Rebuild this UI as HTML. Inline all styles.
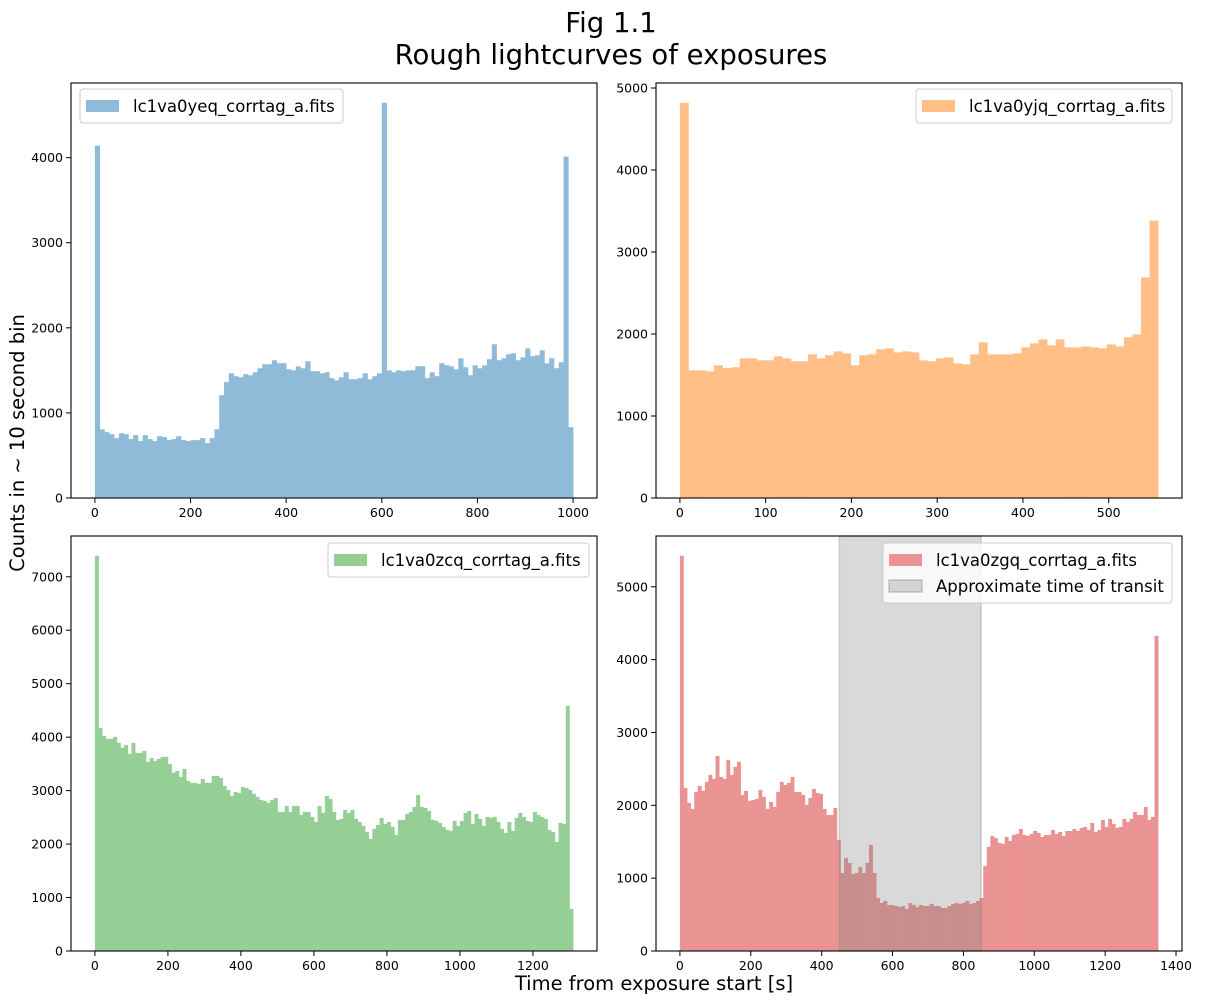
<!DOCTYPE html>
<html>
<head>
<meta charset="utf-8">
<style>
html,body{margin:0;padding:0;background:#fff;}
svg{display:block;font-family:"DejaVu Sans","Liberation Sans",sans-serif;}
</style>
</head>
<body>
<svg id="fig" width="1205" height="1004" viewBox="0 0 1205 1004" xmlns="http://www.w3.org/2000/svg">
<text x="611" y="32" font-size="27.5" text-anchor="middle">Fig 1.1</text>
<text x="611" y="64" font-size="27.5" text-anchor="middle">Rough lightcurves of exposures</text>
<text x="0" y="0" font-size="19.5" text-anchor="middle" transform="translate(24,443) rotate(-90)">Counts in  ~ 10 second bin</text>
<text x="654" y="990" font-size="19.5" text-anchor="middle">Time from exposure start [s]</text>
</svg>
<script>
// ---- data ----
const p1Counts = [4141,805,774,751,704,762,751,692,739,669,739,692,669,727,716,680,692,727,680,669,680,680,704,645,704,809,1208,1361,1466,1431,1419,1455,1443,1478,1525,1572,1572,1619,1584,1584,1513,1501,1548,1525,1607,1490,1490,1466,1478,1408,1384,1419,1478,1396,1396,1408,1466,1396,1431,1466,4645,1501,1478,1501,1490,1501,1501,1548,1548,1408,1478,1431,1584,1560,1548,1513,1642,1537,1443,1560,1525,1560,1631,1807,1619,1642,1689,1701,1619,1654,1759,1666,1677,1736,1584,1642,1525,1595,4012,833];
const p2Counts = [4820,1557,1557,1545,1618,1585,1594,1703,1703,1679,1679,1727,1703,1667,1667,1752,1703,1740,1788,1764,1618,1740,1752,1813,1825,1776,1788,1776,1679,1667,1703,1715,1642,1630,1752,1898,1752,1752,1752,1764,1837,1886,1934,1861,1934,1837,1837,1849,1837,1825,1873,1849,1959,1995,2689,3382];
const p3Counts = [7393,4174,4024,3968,3968,4005,3893,3800,3856,3687,3893,3706,3706,3743,3538,3612,3556,3594,3631,3631,3500,3332,3369,3257,3406,3182,3144,3144,3126,3219,3144,3144,3275,3275,3238,3088,3013,2901,2976,2957,3070,3051,3013,2939,2882,2826,2808,2770,2826,2864,2602,2602,2714,2602,2714,2714,2546,2602,2602,2508,2414,2714,2583,2901,2845,2602,2452,2471,2639,2583,2639,2471,2414,2340,2227,2096,2283,2358,2489,2377,2414,2321,2171,2452,2452,2564,2602,2695,2920,2695,2677,2620,2452,2433,2396,2321,2265,2246,2433,2340,2433,2583,2620,2377,2564,2471,2340,2508,2489,2508,2414,2283,2209,2414,2246,2489,2583,2508,2433,2414,2602,2546,2508,2471,2265,2227,2040,2396,2377,4586,786];
const p4Counts = [5426,2239,2033,1951,2184,2267,2198,2322,2418,2363,2679,2390,2363,2624,2418,2528,2596,2143,2198,2061,2074,2088,2212,2115,1951,2047,1978,2184,2322,2280,2308,2390,2184,2184,2143,2006,2102,2225,2170,2157,1951,1868,1868,1964,1525,
1071,1278,1209,1058,1071,1154,1071,1209,1456,1071,728,659,687,632,632,618,604,618,577,659,632,604,632,618,618,646,618,618,591,591,618,646,659,646,659,687,646,659,687,728,
1168,1429,1580,1552,1484,1470,1566,1511,1593,1607,1676,1593,1580,1607,1648,1621,1566,1593,1593,1662,1607,1635,1580,1648,1648,1676,1648,1690,1703,1662,1758,1635,1662,1800,1703,1813,1745,1690,1703,1813,1772,1813,1909,1868,1868,1978,1800,1841,4327];
const binWidths = [10, 9.957, 10, 10.07];
const transitSpan = [450, 850];
const p1XTicks = [0,200,400,600,800,1000];
const p2XTicks = [0,100,200,300,400,500];
const p3XTicks = [0,200,400,600,800,1000,1200];
const p4XTicks = [0,200,400,600,800,1000,1200,1400];
const p1YTicks = [0,1000,2000,3000,4000];
const p2YTicks = [0,1000,2000,3000,4000,5000];
const p3YTicks = [0,1000,2000,3000,4000,5000,6000,7000];
const p4YTicks = [0,1000,2000,3000,4000,5000];
const legendLabels = ["lc1va0yeq_corrtag_a.fits","lc1va0yjq_corrtag_a.fits","lc1va0zcq_corrtag_a.fits","lc1va0zgq_corrtag_a.fits","Approximate time of transit"];

// ---- drawing ----
const NS = "http://www.w3.org/2000/svg";
const svg = document.getElementById("fig");
function mk(tag, attrs, parent){
  const e = document.createElementNS(NS, tag);
  for (const k in attrs) e.setAttribute(k, attrs[k]);
  (parent||svg).appendChild(e);
  return e;
}
const panels = [
  {name:"panel-yeq", x:71, y:83, counts:p1Counts, bw:binWidths[0], xt:p1XTicks, yt:p1YTicks, color:"#8fbbd9", label:legendLabels[0], leg:{x:80,y:89,w:263}},
  {name:"panel-yjq", x:656, y:83, counts:p2Counts, bw:binWidths[1], xt:p2XTicks, yt:p2YTicks, color:"#ffbf86", label:legendLabels[1], leg:{x:916,y:89,w:256}},
  {name:"panel-zcq", x:71, y:536, counts:p3Counts, bw:binWidths[2], xt:p3XTicks, yt:p3YTicks, color:"#95cf95", label:legendLabels[2], leg:{x:328,y:543,w:261}},
  {name:"panel-zgq", x:656, y:536, counts:p4Counts, bw:binWidths[3], xt:p4XTicks, yt:p4YTicks, color:"#ea9393", label:legendLabels[3], leg:{x:883,y:543,w:289}, transit:true}
];
const W = 526, H = 415;
panels.forEach(function(p){
  const g = mk("g", {});
  
  
  const span = p.counts.length * p.bw;
  const xmin = -0.05*span, xmax = span*1.05;
  let ymaxv = 0; p.counts.forEach(function(v){ if (v>ymaxv) ymaxv=v; });
  const ymax = ymaxv*1.05;
  const sx = function(v){ return p.x + (v - xmin)/(xmax - xmin)*W; };
  const sy = function(v){ return p.y + H - v/ymax*H; };
  const bars = mk("g", {}, g);
  
  
  p.counts.forEach(function(v,i){
    const x0 = sx(i*p.bw), x1 = sx((i+1)*p.bw);
    const r = mk("rect", {x:x0, y:sy(v), width:(x1-x0)+0.35, height:sy(0)-sy(v), fill:p.color}, bars);
    
    
  });
  if (p.transit){
    const a = sx(transitSpan[0]), b = sx(transitSpan[1]);
    const s = mk("rect", {x:a, y:p.y, width:b-a, height:H, fill:"#808080", "fill-opacity":0.3, stroke:"#808080", "stroke-opacity":0.3, "stroke-width":1.5}, g);
    
    
  }
  const f = mk("rect", {x:p.x, y:p.y, width:W, height:H, fill:"none", stroke:"#000", "stroke-width":1.1}, g);
  
  
  p.xt.forEach(function(t){
    const x = sx(t);
    const l = mk("line", {x1:x, x2:x, y1:p.y+H, y2:p.y+H+5, stroke:"#000", "stroke-width":1}, g);
    
    
    const tx = mk("text", {x:x, y:p.y+H+19, "font-size":12.5, "text-anchor":"middle"}, g);
    
    
    tx.textContent = t;
  });
  p.yt.forEach(function(t){
    const y = sy(t);
    const l = mk("line", {x1:p.x-5, x2:p.x, y1:y, y2:y, stroke:"#000", "stroke-width":1}, g);
    
    
    const tx = mk("text", {x:p.x-8, y:y+4.5, "font-size":12.5, "text-anchor":"end"}, g);
    
    
    tx.textContent = t;
  });
  const L = p.leg;
  const lh = p.transit ? 60 : 34;
  const lg = mk("g", {}, g);
  
  
  mk("rect", {x:L.x, y:L.y, width:L.w, height:lh, rx:3, fill:"#fff", "fill-opacity":0.8, stroke:"#cccccc", "stroke-width":1}, lg);
  const pt = mk("rect", {x:L.x+6, y:L.y+11, width:33, height:12, fill:p.color}, lg);
  
  
  const lt = mk("text", {x:L.x+53, y:L.y+23, "font-size":16.5}, lg);
  
  
  lt.textContent = p.label;
  if (p.transit){
    const pt2 = mk("rect", {x:L.x+6, y:L.y+37, width:33, height:12, fill:"#808080", "fill-opacity":0.3, stroke:"#808080", "stroke-opacity":0.4, "stroke-width":1.5}, lg);
    
    
    const lt2 = mk("text", {x:L.x+53, y:L.y+49, "font-size":16.5}, lg);
    
    
    lt2.textContent = legendLabels[4];
  }
});
</script>
</body>
</html>
